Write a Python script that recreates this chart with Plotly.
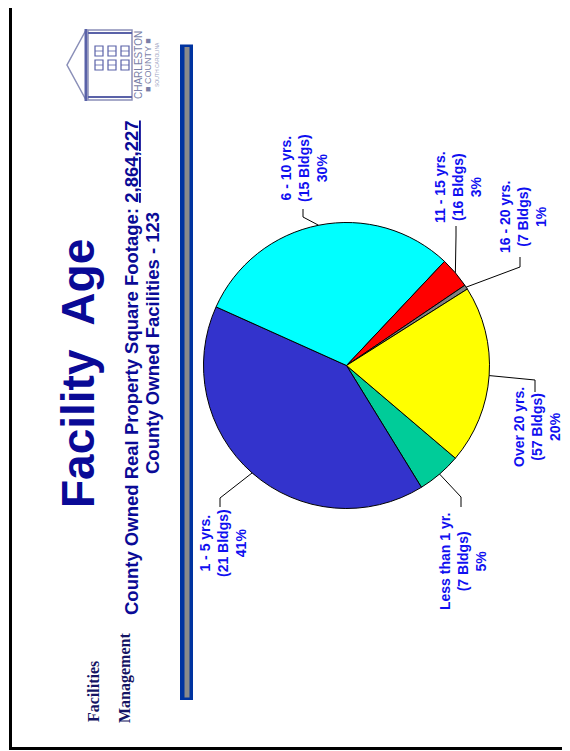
import math
import plotly.graph_objects as go

# ---------------- data ----------------
categories = ["Less than 1 yr.", "1 - 5 yrs.", "6 - 10 yrs.", "11 - 15 yrs.", "16 - 20 yrs.", "Over 20 yrs."]
bldg_counts = [7, 21, 15, 16, 7, 57]
share_values = [5.0, 40.5, 30.3, 3.5, 0.5, 20.2]
pct_labels = ["5%", "41%", "30%", "3%", "1%", "20%"]
slice_colors = ["#00CC99", "#3333CC", "#00FFFF", "#FF0000", "#808080", "#FFFF00"]

title_text = "Facility\u00a0 Age"
sub_line1 = "County Owned Real Property Square Footage: <u>2,864,227</u>"
sub_line2 = "County Owned Facilities - 123"

# ---------------- layout constants (pixels in the page) ----------------
W, H = 570, 751
OFF = 8  # default body margin of the html page
PIE_CX, PIE_CY, PIE_R = 346.5, 365.5, 143
ROTATION = 130.4


def px(x):
    return (x - OFF) / W


def py(y):
    return 1 - (y - OFF) / H


# label centre, leader end point, elbow offset (toward pie)
label_pos = [(463, 562), (223, 543), (304, 168), (458, 187), (523, 217), (537, 427)]
leader_end = [(461, 507), (220, 507), (303, 209), (456, 226), (520, 257), (535, 392)]
elbow_dy = [-10, -9, 8, 10, 10, -12]

fig = go.Figure()
fig.add_trace(go.Pie(
    labels=categories,
    values=share_values,
    sort=False,
    direction="clockwise",
    rotation=ROTATION,
    marker=dict(colors=slice_colors, line=dict(color="black", width=1)),
    textinfo="none",
    hoverinfo="label+percent",
    showlegend=False,
    domain=dict(x=[px(PIE_CX - PIE_R), px(PIE_CX + PIE_R)],
                y=[py(PIE_CY + PIE_R), py(PIE_CY - PIE_R)]),
))

shapes = []
annotations = []


def vtext(x, y, text, size, color, family="Arial, Liberation Sans, sans-serif"):
    annotations.append(dict(x=px(x), y=py(y), xref="paper", yref="paper", text=text,
                            showarrow=False, textangle=-90, xanchor="center", yanchor="middle",
                            align="center", font=dict(family=family, size=size, color=color)))


def line(x0, y0, x1, y1, color="black", width=1):
    shapes.append(dict(type="line", xref="paper", yref="paper",
                       x0=px(x0), y0=py(y0), x1=px(x1), y1=py(y1),
                       line=dict(color=color, width=width)))


def rect(x0, y0, x1, y1, fill="rgba(0,0,0,0)", lcolor=None, lwidth=0):
    shapes.append(dict(type="rect", xref="paper", yref="paper",
                       x0=px(x0), y0=py(y1), x1=px(x1), y1=py(y0),
                       line=dict(color=lcolor or "rgba(0,0,0,0)", width=lwidth), fillcolor=fill))


# leader lines from slice mid-angles + labels
total = sum(share_values)
start = 90 - ROTATION
cum = 0.0
for i, v in enumerate(share_values):
    mid = start - 360 * (cum + v / 2) / total
    cum += v
    a = math.radians(mid)
    sx = PIE_CX + PIE_R * math.cos(a)
    sy = PIE_CY - PIE_R * math.sin(a)
    ex, ey = leader_end[i]
    bx, by = ex, ey + elbow_dy[i]
    line(sx, sy, bx, by)
    line(bx, by, ex, ey)
    lx, ly = label_pos[i]
    txt = f"<b>{categories[i]}<br>({bldg_counts[i]} Bldgs)<br>{pct_labels[i]}</b>"
    vtext(lx, ly, txt, 14, "#1010F0")

# slide border
rect(10.5, 3, 566.5, 748.5, lcolor="black", lwidth=3)
# vertical decorative bar
rect(180, 44.5, 193, 700, fill="#0033A0")
rect(184.5, 47, 189.5, 697.5, fill="#8a8a8a")

# logo (simplified building)
logo_col = "#5a62a8"
shapes.append(dict(type="path", xref="paper", yref="paper",
                   path=f"M {px(86)},{py(30)} L {px(67)},{py(65)} L {px(86)},{py(100)}",
                   line=dict(color="#8a8fb8", width=1.5)))
line(86, 29, 86, 101, logo_col, 3)
rect(88, 30, 132, 100, lcolor="#8a8fb8", lwidth=1.5)
for yy in (33, 97):
    line(88, yy, 132, yy, logo_col, 2)
for wx in (95, 108, 121):
    for wy in (46, 60):
        rect(wx, wy, wx + 8, wy + 10, lcolor=logo_col, lwidth=1.2)
        line(wx, wy + 5, wx + 8, wy + 5, logo_col, 0.8)
vtext(138, 65, "CHARLESTON", 10, "#7a7fa8")
vtext(148, 65, "\u25a0 COUNTY \u25a0", 9, "#7a7fa8")
vtext(157, 65, "SOUTH CAROLINA", 5, "#9a9fc0")

# titles
vtext(78, 374, f"<b>{title_text}</b>", 46, "#0A0A96")
vtext(131, 368, f"<b>{sub_line1}</b>", 18.5, "#0A0A96")
vtext(152, 343, f"<b>{sub_line2}</b>", 18.5, "#0A0A96")
serif = "Liberation Serif, Times New Roman, serif"
vtext(93, 692, "<b>Facilities</b>", 16, "#141464", serif)
vtext(125, 678, "<b>Management</b>", 16, "#141464", serif)

fig.update_layout(
    width=W, height=H,
    margin=dict(l=0, r=0, t=0, b=0),
    paper_bgcolor="white",
    plot_bgcolor="white",
    shapes=shapes,
    annotations=annotations,
    showlegend=False,
)

fig.write_html("out.html")
